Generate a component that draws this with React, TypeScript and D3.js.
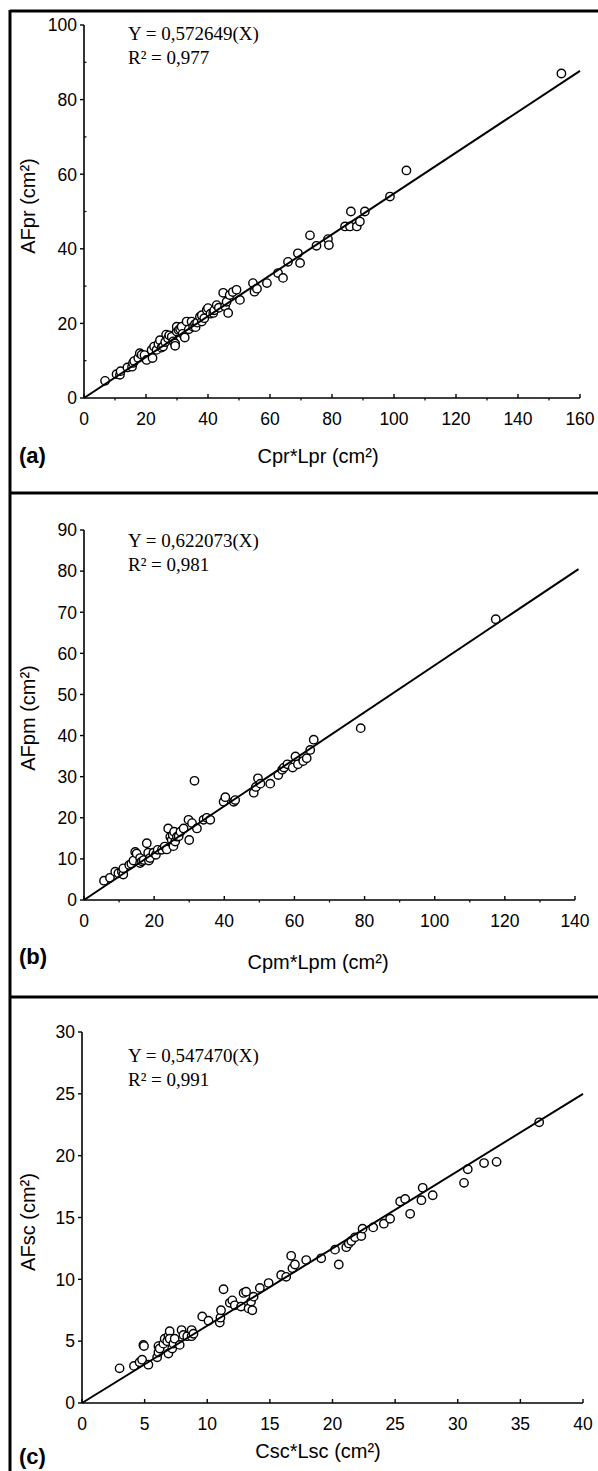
import React from 'react';
import * as d3 from 'd3';

const W = 598;
const H = 1471;

// ---- panel (a): AFpr vs Cpr*Lpr
const aPoints: [number, number][] = [
  [6.8, 4.6], [10.5, 6.4], [11.6, 6.2], [11.8, 7.2], [14, 8.2], [15.5, 8.4], [15.8, 9.4],
  [16.2, 9.9], [17.5, 10.7], [18, 12], [18.6, 11.6], [19.5, 11.5], [20.2, 10.2], [21.8, 12.9],
  [22.1, 10.7], [22.6, 13.8], [23.4, 12.9], [24, 14.5], [24.5, 15.5], [25, 13.5], [25.5, 13.8],
  [26.2, 15], [26.5, 17], [27.1, 16], [27.5, 16.8], [28.3, 16.4], [28.8, 15.2], [29.4, 14.6],
  [29.4, 14], [29.9, 17.8], [29.9, 19.1], [30.5, 18.2], [31, 18.5], [31.5, 19.1], [31.8, 17.2],
  [32.5, 16.2], [33.1, 20.5], [33.8, 18.4], [34.7, 20.5], [35.2, 19.1], [35.8, 19.8], [36, 19],
  [36.5, 20.2], [37.4, 21.8], [38, 20.5], [38, 22.2], [38.8, 21.4], [39.6, 23.6], [40, 24.1],
  [40.8, 22.6], [41.7, 22.8], [42, 23.5], [42.8, 24.9], [43.5, 24.2], [44.9, 28.2], [45.5, 24.6],
  [46, 25.8], [46.5, 22.8], [47, 27.6], [48, 28.4], [49.2, 29], [50.3, 26.3], [54.5, 30.8],
  [55, 28.5], [55.8, 29.3], [59, 30.8], [62.6, 33.5], [64.2, 32.2], [65.8, 36.5], [69, 38.8],
  [69.7, 36.2], [72.9, 43.6], [75, 40.8], [78.7, 42.6], [79, 41], [84.2, 46], [85.8, 46],
  [86.1, 50], [88, 46], [89, 47.3], [90.6, 50], [98.7, 54], [104, 61], [154, 87],
];
const aFitEnd: [number, number] = [160, 87.7];
const aXTicks = [0, 20, 40, 60, 80, 100, 120, 140, 160];
const aXMinor = [10, 30, 50, 70, 90, 110, 130, 150];
const aYTicks = [0, 20, 40, 60, 80, 100];
const aYMinor = [10, 30, 50, 70, 90];
const aEquation = ['Y = 0,572649(X)', 'R² = 0,977'];

// ---- panel (b): AFpm vs Cpm*Lpm
const bPoints: [number, number][] = [
  [5.7, 4.7], [7.4, 5.4], [8.9, 6.9], [9.8, 6.5], [10.8, 6.9], [11.2, 6.2], [11.2, 7.7],
  [12.9, 8.5], [13.5, 8.8], [14.1, 9.6], [14.6, 11.7], [15, 11.3], [16, 10.2], [16, 9], [16.5, 9.4],
  [17, 9.7], [17.9, 13.8], [18.3, 11.5], [18.5, 9.6], [18.8, 10.2], [19.8, 11.5], [20.5, 11],
  [21, 12.2], [22.2, 12.2], [23, 13], [23.6, 12.3], [24, 17.4], [24.6, 15.4], [25, 14.6],
  [25.3, 15.8], [25.5, 13.1], [25.7, 16.6], [26, 14.2], [26.5, 15.4], [27, 15.5], [27.5, 16.6],
  [28.4, 17.4], [29.8, 19.5], [30, 14.6], [30.8, 18.7], [31.5, 29], [32.2, 17.4], [34.1, 19.5],
  [35, 20], [36, 19.5], [39.8, 23.9], [40.3, 25], [42.7, 23.9], [43.1, 24.3], [48.4, 26.1],
  [49, 27.5], [49.6, 29.6], [50.3, 28.3], [53.1, 28.3], [55.4, 30.4], [56.5, 31.7], [57, 32.2],
  [58, 33], [59.5, 32.2], [60.3, 34.9], [61, 33], [62.5, 33.8], [63.5, 34.5], [64.5, 36.5],
  [65.5, 39], [78.9, 41.8], [117.4, 68.3],
];
const bFitEnd: [number, number] = [141, 80.5];
const bXTicks = [0, 20, 40, 60, 80, 100, 120, 140];
const bXMinor = [10, 30, 50, 70, 90, 110, 130];
const bYTicks = [0, 10, 20, 30, 40, 50, 60, 70, 80, 90];
const bYMinor: number[] = [];
const bEquation = ['Y = 0,622073(X)', 'R² = 0,981'];

// ---- panel (c): AFsc vs Csc*Lsc
const cPoints: [number, number][] = [
  [3, 2.8], [4.15, 3], [4.6, 3.3], [4.8, 3.5], [4.9, 4.7], [4.95, 4.6], [5.3, 3.1], [6, 3.7],
  [6.1, 4.1], [6.1, 4.6], [6.2, 4.4], [6.5, 4.8], [6.6, 5.2], [6.8, 5], [6.9, 5.4], [6.9, 4],
  [7, 5.8], [7, 5.2], [7.2, 4.4], [7.3, 4.8], [7.4, 5.2], [7.8, 4.7], [7.95, 5.9], [8.1, 5.5],
  [8.4, 5.4], [8.75, 5.4], [8.75, 5.9], [8.9, 5.6], [9.6, 7], [10.1, 6.65], [11, 6.5],
  [11.05, 6.9], [11.1, 7.5], [11.3, 9.2], [11.8, 8.1], [12, 8.3], [12.2, 7.9], [12.7, 7.8],
  [12.9, 8.9], [13.1, 9], [13.3, 7.65], [13.5, 8.2], [13.6, 7.5], [13.7, 8.6], [14.2, 9.3],
  [14.9, 9.7], [15.9, 10.35], [16.3, 10.2], [16.7, 11.9], [16.8, 10.9], [17, 11.2], [17.9, 11.56],
  [19.1, 11.7], [20.2, 12.4], [20.5, 11.2], [21.1, 12.6], [21.3, 12.9], [21.5, 13.1], [21.8, 13.4],
  [22.3, 13.5], [22.4, 14.1], [23.25, 14.2], [24.1, 14.5], [24.6, 14.9], [25.4, 16.3], [25.8, 16.5],
  [26.2, 15.3], [27.1, 16.4], [27.2, 17.4], [28, 16.8], [30.5, 17.8], [30.8, 18.9], [32.1, 19.4],
  [33.1, 19.5], [36.5, 22.7],
];
const cFitEnd: [number, number] = [40, 25];
const cXTicks = [0, 5, 10, 15, 20, 25, 30, 35, 40];
const cXMinor: number[] = [];
const cYTicks = [0, 5, 10, 15, 20, 25, 30];
const cYMinor: number[] = [];
const cEquation = ['Y = 0,547470(X)', 'R² = 0,991'];

const SANS = '"Liberation Sans", Arial, sans-serif';
const SERIF = '"Liberation Serif", "Times New Roman", serif';

type PanelProps = {
  points: [number, number][];
  fitEnd: [number, number];
  xTicks: number[];
  xMinor: number[];
  yTicks: number[];
  yMinor: number[];
  equation: string[];
  letter: string;
  xTitle: string;
  yTitle: string;
  // layout in page pixels
  left: number;
  right: number;
  bottom: number;
  top: number;
  eqY: number;
  yTitleMid: number;
  xTitleY: number;
  letterY: number;
};

function Panel(p: PanelProps) {
  const x = d3
    .scaleLinear()
    .domain([0, p.xTicks[p.xTicks.length - 1]])
    .range([p.left, p.right]);
  const y = d3
    .scaleLinear()
    .domain([0, p.yTicks[p.yTicks.length - 1]])
    .range([p.bottom, p.top]);

  const fit = d3.line<[number, number]>()
    .x((d) => x(d[0]))
    .y((d) => y(d[1]));

  return (
    <g>
      {/* axes */}
      <line x1={x(0)} x2={x.range()[1]} y1={y(0)} y2={y(0)} stroke="#000" strokeWidth={1.6} />
      <line x1={x(0)} x2={x(0)} y1={y(0)} y2={y.range()[1]} stroke="#000" strokeWidth={1.6} />
      {p.xTicks.map((t) => (
        <g key={'xt' + t}>
          <line x1={x(t)} x2={x(t)} y1={y(0)} y2={y(0) - 4} stroke="#000" strokeWidth={1.4} />
          <text x={x(t)} y={y(0) + 27} textAnchor="middle" fontFamily={SANS} fontSize={17.5}>
            {t}
          </text>
        </g>
      ))}
      {p.xMinor.map((t) => (
        <line key={'xm' + t} x1={x(t)} x2={x(t)} y1={y(0)} y2={y(0) + 2.5} stroke="#000" strokeWidth={1.2} />
      ))}
      {p.yTicks.map((t) => (
        <g key={'yt' + t}>
          <line x1={x(0) - 4} x2={x(0)} y1={y(t)} y2={y(t)} stroke="#000" strokeWidth={1.4} />
          <text x={x(0) - 7} y={y(t)} dy="0.36em" textAnchor="end" fontFamily={SANS} fontSize={17.5}>
            {t}
          </text>
        </g>
      ))}
      {p.yMinor.map((t) => (
        <line key={'ym' + t} x1={x(0)} x2={x(0) + 2.5} y1={y(t)} y2={y(t)} stroke="#000" strokeWidth={1.2} />
      ))}

      {/* points */}
      {p.points.map((d, i) => (
        <circle key={i} cx={x(d[0])} cy={y(d[1])} r={4.2} fill="#fff" stroke="#000" strokeWidth={1.4} />
      ))}
      {/* fitted line */}
      <path d={fit([[0, 0], p.fitEnd]) || ''} stroke="#000" strokeWidth={2} fill="none" />

      {/* equation */}
      <text x={128} y={p.eqY} fontFamily={SERIF} fontSize={19}>
        {p.equation[0]}
      </text>
      <text x={128} y={p.eqY + 24} fontFamily={SERIF} fontSize={19}>
        {p.equation[1]}
      </text>

      {/* titles */}
      <text
        transform={`translate(35,${p.yTitleMid}) rotate(-90)`}
        textAnchor="middle"
        fontFamily={SANS}
        fontSize={20}
      >
        {p.yTitle}
      </text>
      <text x={318} y={p.xTitleY} textAnchor="middle" fontFamily={SANS} fontSize={20}>
        {p.xTitle}
      </text>
      <text x={19} y={p.letterY} fontFamily={SANS} fontSize={22} fontWeight="bold">
        {p.letter}
      </text>
    </g>
  );
}

export default function App() {
  return (
    <svg
      width={W}
      height={H}
      style={{ position: 'absolute', left: 0, top: 0, background: '#fff' }}
    >
      <rect width={W} height={H} fill="#fff" />
      {/* frame */}
      <line x1={10} x2={W} y1={11} y2={11} stroke="#000" strokeWidth={3} />
      <line x1={10} x2={10} y1={10} y2={H} stroke="#000" strokeWidth={3} />
      <line x1={10} x2={W} y1={493} y2={493} stroke="#000" strokeWidth={3} />
      <line x1={10} x2={W} y1={997} y2={997} stroke="#000" strokeWidth={3} />

      <Panel
        points={aPoints}
        fitEnd={aFitEnd}
        xTicks={aXTicks}
        xMinor={aXMinor}
        yTicks={aYTicks}
        yMinor={aYMinor}
        equation={aEquation}
        letter="(a)"
        xTitle="Cpr*Lpr (cm²)"
        yTitle="AFpr (cm²)"
        left={84}
        right={580}
        bottom={398}
        top={25}
        eqY={40}
        yTitleMid={206}
        xTitleY={463}
        letterY={463}
      />
      <Panel
        points={bPoints}
        fitEnd={bFitEnd}
        xTicks={bXTicks}
        xMinor={bXMinor}
        yTicks={bYTicks}
        yMinor={bYMinor}
        equation={bEquation}
        letter="(b)"
        xTitle="Cpm*Lpm (cm²)"
        yTitle="AFpm (cm²)"
        left={84}
        right={575}
        bottom={900}
        top={530}
        eqY={547}
        yTitleMid={718}
        xTitleY={969}
        letterY={964}
      />
      <Panel
        points={cPoints}
        fitEnd={cFitEnd}
        xTicks={cXTicks}
        xMinor={cXMinor}
        yTicks={cYTicks}
        yMinor={cYMinor}
        equation={cEquation}
        letter="(c)"
        xTitle="Csc*Lsc (cm²)"
        yTitle="AFsc (cm²)"
        left={82}
        right={583}
        bottom={1403}
        top={1032}
        eqY={1062}
        yTitleMid={1222}
        xTitleY={1458}
        letterY={1464}
      />
    </svg>
  );
}
